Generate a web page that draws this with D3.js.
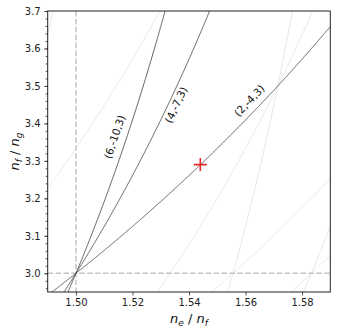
<!DOCTYPE html>
<html><head><meta charset="utf-8">
<script src="https://cdn.jsdelivr.net/npm/d3@7"></script>
<style>
body{margin:0;background:#fff}
svg{display:block}
text{font-family:"DejaVu Sans",sans-serif}
</style>
</head><body>
<svg id="c" width="338" height="333"></svg>
<script>
// Integer triples (a,b,c): curves a*(ne/nf)*(nf/ng) + b*(nf/ng) + c = 0
const highlighted = [[6,-10,3],[4,-7,3],[2,-4,3]];
const background = [[3,-5,1],[4,-7,2],[5,-8,2],[3,-6,4],[5,-9,4],[4,-8,5],[5,-9,5]];
const xTicks = [1.50,1.52,1.54,1.56,1.58];
const yTicks = [3.0,3.1,3.2,3.3,3.4,3.5,3.6,3.7];
const yMinorTicks = d3.range(2.96,3.7001,0.02);
const refX = 1.50, refY = 3.0;
const markerX = 1.544, markerY = 3.29;
const xDomain = [1.49,1.59], yDomain = [2.95,3.7];
// label anchor (ne/nf on curve) and perpendicular offset in px
const labelAnchor = [1.5176, 1.5331, 1.5641];
const labelOffset = [12, -7, 11];

const svg = d3.select("#c");
const L=47.7, R=330.3, T=11, B=292;
const x = d3.scaleLinear().domain(xDomain).range([L,R]);
const y = d3.scaleLinear().domain(yDomain).range([B,T]);

svg.append("clipPath").attr("id","clip").append("rect")
  .attr("x",L).attr("y",T).attr("width",R-L).attr("height",B-T);
const g = svg.append("g").attr("clip-path","url(#clip)");

const f = (t,v)=>{const d=t[0]*v+t[1]; return d<0 ? -t[2]/d : NaN;};
const xs = d3.range(0,1001).map(i=>xDomain[0]+(xDomain[1]-xDomain[0])*i/1000);
const line = d3.line().defined(d=>isFinite(d[1]) && d[1]<20).x(d=>x(d[0])).y(d=>y(d[1]));

background.forEach(t=>{
  g.append("path").attr("d",line(xs.map(v=>[v,f(t,v)])))
   .attr("fill","none").attr("stroke","#e3e3e3").attr("stroke-width",0.9);
});

// dashed reference lines
g.append("line").attr("x1",x(refX)).attr("x2",x(refX)).attr("y1",T).attr("y2",B)
 .attr("stroke","#c4c4c4").attr("stroke-width",1.5).attr("stroke-dasharray","5.5,2.4");
g.append("line").attr("x1",L).attr("x2",R).attr("y1",y(refY)).attr("y2",y(refY))
 .attr("stroke","#c4c4c4").attr("stroke-width",1.5).attr("stroke-dasharray","5.5,2.4");

highlighted.forEach(t=>{
  g.append("path").attr("d",line(xs.map(v=>[v,f(t,v)])))
   .attr("fill","none").attr("stroke","#555").attr("stroke-width",1);
});

// labels
highlighted.forEach((t,i)=>{
  const xv = labelAnchor[i], yv = f(t,xv);
  const slope = t[0]*yv*yv/t[2];
  const px = x(xv), py = y(yv);
  const dxp = x(xv+0.001)-x(xv), dyp = y(yv+slope*0.001)-y(yv);
  const ang = Math.atan2(dyp,dxp);
  const nx = Math.sin(ang), ny = -Math.cos(ang); // normal up-left
  const cx = px + nx*labelOffset[i], cy = py + ny*labelOffset[i];
  svg.append("text").attr("transform",`translate(${cx},${cy}) rotate(${ang*180/Math.PI})`)
    .attr("text-anchor","middle").attr("dominant-baseline","central")
    .attr("font-size",10.5).attr("fill","#111").text(`(${t.join(",")})`);
});

// marker
const mx=x(markerX), my=y(markerY), ms=6.5;
svg.append("path").attr("d",`M${mx-ms},${my}H${mx+ms}M${mx},${my-ms}V${my+ms}`)
  .attr("stroke","#e8262b").attr("stroke-width",1.6).attr("fill","none");

// axes
svg.append("g").attr("transform",`translate(0,${B})`)
  .call(d3.axisBottom(x).tickValues(xTicks).tickFormat(d3.format(".2f")).tickSize(3.5).tickPadding(3.5));
svg.append("g").attr("transform",`translate(${L},0)`)
  .call(d3.axisLeft(y).tickValues(yTicks).tickFormat(d3.format(".1f")).tickSize(3.5).tickPadding(3.5));
svg.append("g").attr("transform",`translate(${L},0)`)
  .call(d3.axisLeft(y).tickValues(yMinorTicks).tickFormat("").tickSize(2))
  .call(s=>s.select(".domain").remove());
svg.selectAll(".tick line").attr("stroke","#222").attr("stroke-width",0.8);
svg.selectAll(".tick text").attr("font-size",10).attr("fill","#222").attr("font-family","DejaVu Sans");
svg.selectAll(".domain").remove();
svg.append("rect").attr("x",L).attr("y",T).attr("width",R-L).attr("height",B-T)
  .attr("fill","none").attr("stroke","#222").attr("stroke-width",1);

// axis labels
const xl = svg.append("text").attr("x",(L+R)/2).attr("y",323).attr("text-anchor","middle").attr("font-size",13).attr("fill","#111");
xl.append("tspan").attr("font-style","italic").text("n");
xl.append("tspan").attr("font-style","italic").attr("font-size",9).attr("dy",2.5).text("e");
xl.append("tspan").attr("dy",-2.5).text(" / ");
xl.append("tspan").attr("font-style","italic").text("n");
xl.append("tspan").attr("font-style","italic").attr("font-size",9).attr("dy",2.5).text("f");
const yl = svg.append("text").attr("transform",`translate(19,${(T+B)/2}) rotate(-90)`).attr("text-anchor","middle").attr("font-size",13).attr("fill","#111");
yl.append("tspan").attr("font-style","italic").text("n");
yl.append("tspan").attr("font-style","italic").attr("font-size",9).attr("dy",2.5).text("f");
yl.append("tspan").attr("dy",-2.5).text(" / ");
yl.append("tspan").attr("font-style","italic").text("n");
yl.append("tspan").attr("font-style","italic").attr("font-size",9).attr("dy",2.5).text("g");
</script>
</body></html>
